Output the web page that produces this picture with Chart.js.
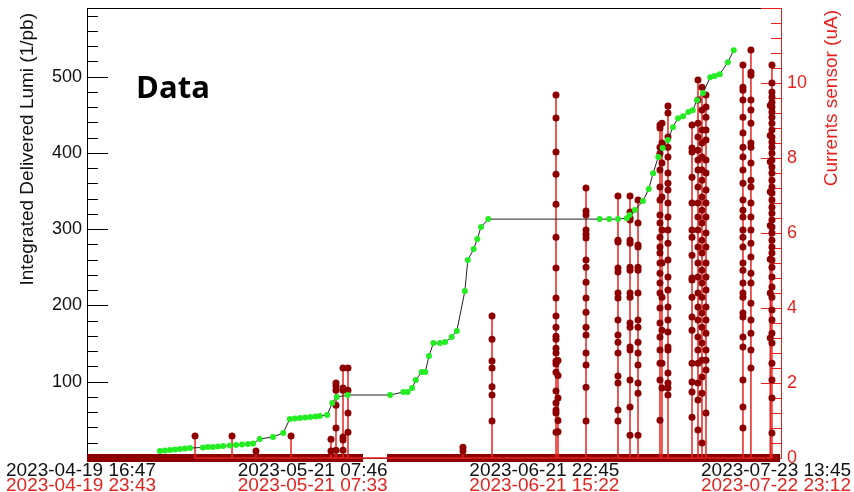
<!DOCTYPE html>
<html>
<head>
<meta charset="utf-8">
<title>Integrated Delivered Lumi vs Currents sensor</title>
<script src="https://cdn.jsdelivr.net/npm/chart.js@4.4.1/dist/chart.umd.min.js"></script>
<style>
  html, body { margin: 0; padding: 0; background: #fff; }
  canvas { display: block; }
</style>
</head>
<body>
<canvas id="lumiChart" width="854" height="492"></canvas>
<script>
// --- Lumi graph (black axes), x = days since 2023-04-19 16:47 ---
const lumiDays = [
    10.78, 11.47, 12.15, 12.83, 13.5, 14.2, 14.9, 16.65, 17.34, 18.0, 18.7, 19.4, 20.3, 21.16, 21.98, 22.8, 23.5,
    24.4, 26.2, 27.6, 28.5, 29.2, 29.9, 30.6, 31.3, 32.0, 32.6, 33.6, 34.3, 34.9, 36.4,
    42.2, 44.0, 44.6, 45.2, 45.7, 46.5, 47.0, 47.5, 48.1, 49.0, 49.7, 50.6, 51.3,
    52.4, 52.8, 53.6, 54.1, 54.6, 55.6,
    70.8, 72.1, 73.3, 74.5, 74.9, 75.6, 76.7, 77.5, 78.1, 78.8, 79.4, 80.1, 80.8,
    81.5, 82.2, 82.9, 83.5, 84.1, 84.9, 85.9, 86.5, 87.2, 88.3, 89.1
];
const lumiValues = [
    9.2, 9.8, 10.5, 11.1, 11.8, 12.5, 13.1, 13.8, 14.4, 14.4, 15.1, 15.7, 16.4, 17.0, 17.7, 18.3, 19.0,
    24.9, 27.5, 32.8, 51.1, 51.8, 52.4, 53.0, 53.7, 54.3, 55.0, 56.4, 72.1, 79.9, 82.6,
    82.6, 86.5, 86.5, 91.7, 102.2, 112.7, 112.7, 133.7, 150.7, 150.7, 152.0, 158.6, 166.4,
    218.9, 259.5, 273.9, 287.0, 302.8, 313.2,
    313.2, 313.2, 313.2, 314.5, 318.5, 325.0, 336.8, 352.6, 373.5, 394.5, 406.3, 416.8, 433.8,
    445.6, 448.2, 453.5, 456.1, 469.2, 478.4, 499.3, 500.7, 503.3, 519.0, 534.7
];
const lumiTickDays = [0, 31.625, 63.25, 94.875];
const lumiTickLabels = ['2023-04-19 16:47', '2023-05-21 07:46', '2023-06-21 22:45', '2023-07-23 13:45'];

// --- Currents sensor graph (red axes), x = days since 2023-04-19 23:43 ---
const spikeDays = [
    15.42, 20.42, 23.66, 28.40, 33.80, 34.48, 35.43, 36.10, 51.65,
    55.58, 64.23, 64.50, 68.29, 72.61, 74.24, 75.32, 78.29, 78.56, 79.37,
    82.62, 83.43, 83.97, 84.51, 89.51, 90.59, 93.20, 93.43
];
const spikeValues = [
    [0.59],
    [0.59],
    [0.19],
    [0.59],
    [0.50, 0.19],
    [2.0, 1.92, 1.81, 1.41, 0.8, 0.21],
    [2.4, 1.87, 1.81, 0.56, 0.48, 0.21],
    [2.4, 1.81, 1.20, 0.69],
    [0.29, 0.19],
    [3.79, 3.17, 2.59, 2.4, 1.9, 1.68, 0.99],
    [9.68, 9.07, 8.16, 7.57, 6.77, 5.89, 5.07, 4.27, 3.79, 3.49, 3.25, 3.17, 2.93, 2.8, 2.59, 2.51, 2.29, 1.79, 1.47, 1.28, 1.2, 0.69],
    [2.6, 2.2, 1.6, 1.0, 0.7],
    [7.2, 6.59, 6.48, 6.08, 5.97, 5.87, 5.28, 5.09, 4.69, 4.27, 3.89, 3.49, 3.28, 2.8, 2.48, 1.89, 0.99],
    [6.99, 5.81, 5.76, 5.07, 4.96, 4.4, 4.27, 3.68, 3.28, 3.09, 2.8, 2.19, 2.0, 1.28, 0.99],
    [6.99, 6.56, 6.4, 6.35, 5.81, 5.73, 5.09, 5.01, 4.4, 4.29, 3.6, 3.49, 2.96, 2.88, 2.08, 1.36, 0.61],
    [6.88, 6.27, 5.68, 5.63, 5.09, 5.01, 4.4, 3.68, 3.49, 3.09, 2.8, 2.48, 2.0, 1.73, 0.61],
    [8.88, 8.8, 8.29, 8.13, 7.68, 7.23, 6.88, 6.48, 6.27, 5.89, 5.63, 5.47, 5.2, 4.93, 4.67, 4.4, 4.0, 3.6, 3.23, 2.88, 2.53, 2.08, 1.01],
    [8.93, 8.4, 7.87, 6.96, 6.08, 5.2, 4.29, 3.41, 2.53, 1.87],
    [9.39, 9.2, 8.56, 8.29, 8.03, 7.6, 7.33, 7.15, 6.8, 6.43, 6.08, 5.73, 5.28, 4.83, 4.48, 4.03, 3.68, 3.36, 2.96, 2.88, 2.27, 2.0, 1.87, 1.68],
    [8.88, 8.27, 8.16, 7.49, 6.8, 6.08, 5.89, 5.41, 4.8, 4.75, 4.29, 3.76, 3.41, 2.53, 2.03, 1.76, 1.09],
    [10.08, 9.55, 8.93, 8.56, 8.21, 7.95, 7.68, 7.23, 6.8, 6.43, 6.08, 5.63, 5.2, 4.83, 4.4, 4.03, 3.68, 3.23, 2.88, 2.53, 2.0, 1.55, 0.75],
    [9.89, 9.28, 8.75, 8.4, 8.03, 7.68, 7.41, 6.96, 6.61, 6.27, 5.81, 5.47, 5.01, 4.67, 4.29, 3.87, 3.49, 3.07, 2.61, 2.16, 1.73, 0.4],
    [9.68, 9.36, 9.09, 8.75, 8.48, 7.95, 7.6, 7.15, 6.8, 6.43, 6.0, 5.63, 5.2, 4.83, 4.48, 4.03, 3.68, 3.33, 2.88, 2.61, 2.35, 1.2],
    [10.48, 9.89, 9.81, 9.55, 9.09, 8.67, 8.29, 8.03, 7.68, 7.33, 6.88, 6.61, 6.43, 6.08, 5.89, 5.63, 5.2, 5.01, 4.67, 4.4, 4.29, 3.87, 3.76, 3.23, 2.96, 2.08, 1.36, 0.8],
    [10.88, 10.29, 10.21, 9.55, 9.28, 8.93, 8.4, 8.29, 7.87, 7.41, 7.23, 6.8, 6.43, 6.08, 5.73, 5.36, 4.93, 4.67, 4.13, 3.68, 3.33, 2.88, 2.4],
    [9.4, 8.6, 7.9, 7.1, 6.2, 5.3, 4.4, 3.2],
    [10.48, 10.0, 9.76, 9.63, 9.49, 9.36, 9.23, 9.09, 8.93, 8.75, 8.56, 8.43, 8.29, 8.13, 7.95, 7.76, 7.6, 7.41, 7.23, 7.07, 6.88, 6.69, 6.53, 6.35, 6.16, 6.0, 5.81, 5.63, 5.47, 5.28, 5.09, 4.83, 4.56, 4.29, 3.95, 3.68, 3.33, 3.07, 2.53, 2.08, 1.6, 0.67]
];
// stretches where the sensor reads 0 (dense markers along the bottom)
const zeroRuns = [[0.81, 38.13], [41.38, 94.52]];
const currentTickDays = [0, 31.326, 62.652, 93.978];
const currentTickLabels = ['2023-04-19 23:43', '2023-05-21 07:33', '2023-06-21 15:22', '2023-07-22 23:12'];

const lumiAxisTicks = [100, 200, 300, 400, 500];
const currentAxisTicks = [0, 2, 4, 6, 8, 10];

const RED = '#e8231f';
const DARK_RED = '#8e0000';
const GREEN = '#22ee22';

document.addEventListener('DOMContentLoaded', () => {
    initChart();
});

// --- Helpers ---
function fixWidth(w) {
    return (scale) => {
        scale.width = w;
        scale.paddingTop = 0;
        scale.paddingBottom = 0;
    };
}

function fixHeight(h) {
    return (scale) => {
        scale.height = h;
        scale.paddingLeft = 0;
        scale.paddingRight = 0;
    };
}

function strokeLine(ctx, x1, y1, x2, y2) {
    ctx.beginPath();
    ctx.moveTo(x1, y1);
    ctx.lineTo(x2, y2);
    ctx.stroke();
}

// --- ROOT style frame, ticks, titles ---
const rootFrame = {
    id: 'rootFrame',
    beforeDatasetsDraw(chart) {
        const { ctx, chartArea: a, scales } = chart;
        ctx.save();
        ctx.lineWidth = 1;
        ctx.strokeStyle = '#000';
        ctx.strokeRect(a.left + 0.5, a.top + 0.5, a.right - a.left - 1, a.bottom - a.top);

        // left axis: major every 100, minor every 20
        for (let v = 0; v <= 580; v += 20) {
            const y = Math.round(scales.y.getPixelForValue(v)) + 0.5;
            const len = v % 100 === 0 ? 21 : 11;
            strokeLine(ctx, a.left, y, a.left + len, y);
        }

        // right axis (red): major every 2, minor every 0.4
        ctx.strokeStyle = RED;
        strokeLine(ctx, a.right - 0.5, a.top, a.right - 0.5, a.bottom);
        for (let k = 0; k <= 30; k++) {
            const y = Math.round(scales.y2.getPixelForValue(k * 0.4)) + 0.5;
            const len = k % 5 === 0 ? 21 : 11;
            strokeLine(ctx, a.right - len, y, a.right, y);
        }
        ctx.restore();
    },
    afterDraw(chart) {
        const { ctx } = chart;
        ctx.save();
        ctx.textBaseline = 'middle';
        ctx.textAlign = 'right';

        ctx.font = '19px "Liberation Sans", Arial, sans-serif';
        ctx.fillStyle = '#111';
        ctx.translate(28, 13);
        ctx.rotate(-Math.PI / 2);
        ctx.fillText('Integrated Delivered Lumi (1/pb)', 0, 0);
        ctx.setTransform(1, 0, 0, 1, 0, 0);

        ctx.fillStyle = RED;
        ctx.translate(832, 10);
        ctx.rotate(-Math.PI / 2);
        ctx.fillText('Currents sensor (uA)', 0, 0);
        ctx.setTransform(1, 0, 0, 1, 0, 0);

        ctx.textAlign = 'left';
        ctx.textBaseline = 'alphabetic';
        ctx.fillStyle = '#000';
        ctx.font = 'bold 31px "Open Sans", Lato, sans-serif';
        ctx.fillText('Data', 136, 98);
        ctx.restore();
    }
};

// --- Chart ---
function initChart() {
    const canvas = document.getElementById('lumiChart');

    const lumiPoints = lumiDays.map((d, i) => ({ x: d, y: lumiValues[i] }));

    const currentPoints = [];
    spikeDays.forEach((d, i) => {
        currentPoints.push({ x: d, y: 0 });
        spikeValues[i].forEach(v => currentPoints.push({ x: d, y: v }));
        currentPoints.push({ x: d, y: 0 });
    });

    const bandPoints = zeroRuns.flatMap(([a, b]) => [
        { x: a, y: 0 }, { x: b, y: 0 }, { x: b, y: null }
    ]);

    // label rows are clipped to their own axis box, so keep line height tight
    const dateFont = { family: '"Liberation Sans", Arial, sans-serif', size: 19, lineHeight: 1 };
    const numFont = { family: '"Liberation Sans", Arial, sans-serif', size: 18 };

    new Chart(canvas, {
        type: 'line',
        data: {
            datasets: [
                {
                    label: 'Integrated Delivered Lumi',
                    data: lumiPoints,
                    xAxisID: 'x',
                    yAxisID: 'y',
                    borderColor: '#222',
                    borderWidth: 1,
                    pointRadius: 3,
                    pointBackgroundColor: GREEN,
                    pointBorderWidth: 0,
                    tension: 0
                },
                {
                    label: 'Currents sensor',
                    data: currentPoints,
                    xAxisID: 'x2',
                    yAxisID: 'y2',
                    borderColor: RED,
                    borderWidth: 1.5,
                    pointRadius: (c) => (c.raw && c.raw.y === 0 ? 0 : 3.5),
                    pointBackgroundColor: DARK_RED,
                    pointBorderWidth: 0,
                    tension: 0,
                    clip: false
                },
                {
                    label: 'Currents sensor zero',
                    data: bandPoints,
                    xAxisID: 'x2',
                    yAxisID: 'y2',
                    borderColor: DARK_RED,
                    borderWidth: 8,
                    pointRadius: 0,
                    spanGaps: false,
                    clip: false
                }
            ]
        },
        options: {
            responsive: false,
            animation: false,
            layout: { padding: { top: 8, left: 0, right: 0, bottom: 0 } },
            plugins: {
                legend: { display: false },
                tooltip: { enabled: false }
            },
            scales: {
                x: {
                    type: 'linear',
                    position: 'bottom',
                    weight: 0,
                    min: 0.82,
                    max: 95.69,
                    afterBuildTicks: (s) => { s.ticks = lumiTickDays.map(v => ({ value: v })); },
                    afterFit: fixHeight(18),
                    grid: { display: false, drawTicks: false },
                    border: { display: false },
                    ticks: {
                        autoSkip: false,
                        maxRotation: 0,
                        padding: 3,
                        color: '#111',
                        font: dateFont,
                        callback: (v, i) => lumiTickLabels[i]
                    }
                },
                x2: {
                    type: 'linear',
                    position: 'bottom',
                    weight: 1,
                    min: 0.81,
                    max: 94.79,
                    afterBuildTicks: (s) => { s.ticks = currentTickDays.map(v => ({ value: v })); },
                    afterFit: fixHeight(16),
                    grid: { display: false, drawTicks: false },
                    border: { display: false },
                    ticks: {
                        autoSkip: false,
                        maxRotation: 0,
                        padding: 0,
                        color: RED,
                        font: dateFont,
                        callback: (v, i) => currentTickLabels[i]
                    }
                },
                y: {
                    position: 'left',
                    min: 0,
                    max: 590,
                    afterBuildTicks: (s) => { s.ticks = lumiAxisTicks.map(v => ({ value: v })); },
                    afterFit: fixWidth(87),
                    grid: { display: false, drawTicks: false },
                    border: { display: false },
                    ticks: { padding: 5, color: '#111', font: numFont }
                },
                y2: {
                    position: 'right',
                    min: 0,
                    max: 12,
                    afterBuildTicks: (s) => { s.ticks = currentAxisTicks.map(v => ({ value: v })); },
                    afterFit: fixWidth(72),
                    grid: { display: false, drawTicks: false },
                    border: { display: false },
                    ticks: { padding: 5, color: RED, font: numFont }
                }
            }
        },
        plugins: [rootFrame]
    });
}
</script>
</body>
</html>
